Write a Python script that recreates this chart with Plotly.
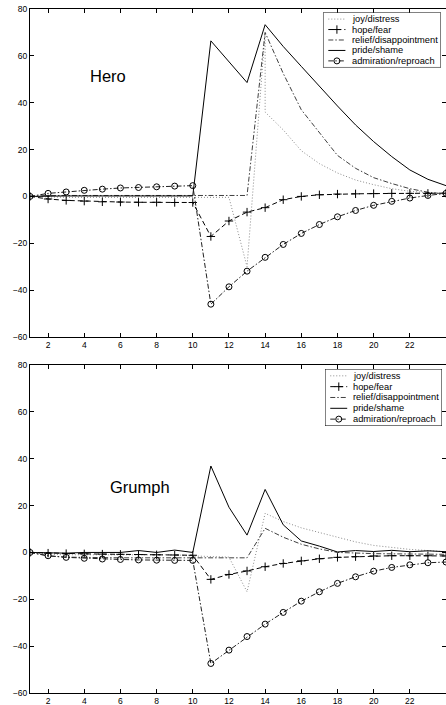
import plotly.graph_objects as go

# ---------------- data ----------------
steps = list(range(1, 25))
x_ticks = list(range(2, 25, 2))
y_ticks = list(range(-60, 81, 20))

series_names = ["joy/distress", "hope/fear", "relief/disappointment",
                "pride/shame", "admiration/reproach"]

# Hero
joy_hero_x = list(range(1, 14)) + [14, 14] + list(range(15, 25))
joy_hero = [0, -0.3, -0.4, -0.4, -0.4, -0.4, -0.4, -0.4, -0.4, -0.4, -0.4, -0.4,
            -30, 70, 36, 28.4, 19.5, 14, 10, 7, 5, 3.3, 2.2, 1.5, 1]
hope_hero = [0, -1.1, -1.7, -2.0, -2.3, -2.4, -2.5, -2.5, -2.6, -2.6,
             -17.1, -10.5, -6.7, -4.8, -1.4, 0, 0.7, 1.0, 1.1, 1.2, 1.3, 1.3, 1.3, 1.4]
relief_hero = [0, 0.4, 0.4, 0.4, 0.4, 0.4, 0.4, 0.4, 0.4, 0.4, 0.4, 0.4, 0.4,
               70, 52.5, 37, 27, 17.5, 12, 8, 5.5, 3.3, 1.8, 1.0]
pride_hero = [0, 0.2, 0.2, 0.2, 0.2, 0.2, 0.2, 0.2, 0.2, 0.2,
              66.4, 57.5, 48.6, 73.3, 64, 55.5, 47, 38.6, 30.5, 23.4, 17, 11.3, 7.3, 4.6]
adm_hero = [0, 1.3, 1.9, 2.6, 3.1, 3.6, 3.8, 4.1, 4.4, 4.6,
            -46, -38.6, -31.9, -26, -20.5, -15.8, -12, -8.7, -6, -3.8, -2.1, -0.7, 0.4, 1.3]

# Grumph
joy_grumph_x = steps
joy_grumph = [0, -0.8, -1, -1, -1, -1, -1, -1, -1, -1.5, -1.9, -2,
              -16.8, 16.7, 13.2, 10.5, 8.5, 6.5, 4.5, 3, 2, 1.3, 0.8, 0.3]
hope_grumph = [0, -0.3, -0.5, -0.6, -0.7, -0.8, -0.9, -1, -1.1, -1.2,
               -11.5, -9.4, -7.9, -6.1, -4.7, -3.6, -2.7, -2.1, -1.8, -1.5, -1.4, -1.4, -1.4, -1.5]
relief_grumph = [0, -1.5, -2, -2.2, -2.3, -2.3, -2.3, -2.3, -2.3, -2.3, -2.3, -2.3, -2.3,
                 10.3, 6.5, 3.5, 1.5, 0, -0.4, -0.5, -0.6, -0.7, -0.8, -0.8]
pride_grumph = [0, -0.2, -0.3, 0, 0, 0, 0.8, 0, 1.0, 0,
                36.9, 19.3, 7.4, 26.9, 11.8, 4.9, 2.7, 0.2, 0.8, 0.4, 0.9, 0.3, 0.7, 0.3]
adm_grumph = [0, -1.4, -2.1, -2.5, -2.8, -3.0, -3.2, -3.3, -3.4, -3.4,
              -47.4, -41.7, -35.9, -30.6, -25.6, -20.8, -16.8, -13.2, -10.4, -8.0, -6.4, -5.3, -4.4, -4.1]

panel_titles = ["Hero", "Grumph"]

# ---------------- styles ----------------
FONT = "Liberation Sans, Arial, sans-serif"
styles = [
    dict(color="#8c8c8c", dash="1px,2px", symbol=None),                 # joy
    dict(color="black", dash="5px,3px", symbol="cross-thin-open"),      # hope
    dict(color="#404040", dash="5px,2px,1.5px,2px", symbol=None),       # relief
    dict(color="black", dash="solid", symbol=None),                     # pride
    dict(color="#202020", dash="5px,2px,1.5px,2px", symbol="circle-open"),  # admiration
]

fig = go.Figure()


def add_series(xs, ys, st, xa, ya):
    mode = "lines+markers" if st["symbol"] else "lines"
    marker = dict(symbol=st["symbol"], size=6, color="black",
                  line=dict(color="black", width=1)) if st["symbol"] else None
    fig.add_trace(go.Scatter(x=xs, y=ys, mode=mode, xaxis=xa, yaxis=ya,
                             line=dict(color=st["color"], dash=st["dash"], width=1),
                             marker=marker, showlegend=False, hoverinfo="skip"))


panels = [
    ("x", "y", [(joy_hero_x, joy_hero), (steps, hope_hero), (steps, relief_hero),
                (steps, pride_hero), (steps, adm_hero)]),
    ("x2", "y2", [(joy_grumph_x, joy_grumph), (steps, hope_grumph), (steps, relief_grumph),
                  (steps, pride_grumph), (steps, adm_grumph)]),
]
for xa, ya, data in panels:
    for (xs, ys), st in zip(data, styles):
        add_series(xs, ys, st, xa, ya)

# ---------------- manual legends ----------------
rows = [0.88, 0.69, 0.50, 0.31, 0.12]
annotations = []
shapes = []
for lx, ly in [("x3", "y3"), ("x4", "y4")]:
    shapes.append(dict(type="rect", xref=lx, yref=ly, x0=0, x1=1, y0=0, y1=1,
                       line=dict(color="black", width=1), fillcolor="white", layer="below"))
    for name, st, r in zip(series_names, styles, rows):
        fig.add_trace(go.Scatter(x=[0.045, 0.19], y=[r, r], mode="lines", xaxis=lx, yaxis=ly,
                                 line=dict(color=st["color"], dash=st["dash"], width=1),
                                 showlegend=False, hoverinfo="skip"))
        if st["symbol"]:
            fig.add_trace(go.Scatter(x=[0.118], y=[r], mode="markers", xaxis=lx, yaxis=ly,
                                     marker=dict(symbol=st["symbol"], size=6, color="black",
                                                 line=dict(color="black", width=1)),
                                     showlegend=False, hoverinfo="skip"))
        annotations.append(dict(x=0.225, y=r, xref=lx, yref=ly, text=name, showarrow=False,
                                xanchor="left", yanchor="middle",
                                font=dict(family=FONT, size=9.3, color="black")))

annotations.append(dict(x=5.29, y=51.5, xref="x", yref="y", text=panel_titles[0],
                        showarrow=False, font=dict(family=FONT, size=16.5, color="black")))
annotations.append(dict(x=7.06, y=28, xref="x2", yref="y2", text=panel_titles[1],
                        showarrow=False, font=dict(family=FONT, size=16.5, color="black")))

axis_common = dict(showline=True, linecolor="black", linewidth=1, mirror="ticks",
                   ticks="inside", ticklen=4, tickwidth=1, tickcolor="black",
                   showgrid=False, zeroline=False,
                   tickfont=dict(family=FONT, size=8.5, color="black"))
hidden = dict(visible=False, range=[0, 1], fixedrange=True)

fig.update_layout(
    width=446, height=705,
    margin=dict(l=30, r=0, t=9, b=12),
    paper_bgcolor="white", plot_bgcolor="rgba(0,0,0,0)",
    showlegend=False,
    xaxis=dict(axis_common, range=[1, 24], tickvals=x_ticks, anchor="y", domain=[0, 1]),
    yaxis=dict(axis_common, range=[-60, 80], tickvals=y_ticks, anchor="x", domain=[0.5205, 1.0]),
    xaxis2=dict(axis_common, range=[1, 24], tickvals=x_ticks, anchor="y2", domain=[0, 1]),
    yaxis2=dict(axis_common, range=[-60, 80], tickvals=y_ticks, anchor="x2", domain=[0, 0.4795]),
    xaxis3=dict(hidden, anchor="y3", domain=[0.7043, 0.988]),
    yaxis3=dict(hidden, anchor="x3", domain=[0.9145, 0.9949]),
    xaxis4=dict(hidden, anchor="y4", domain=[0.7091, 0.9904]),
    yaxis4=dict(hidden, anchor="x4", domain=[0.3904, 0.4737]),
    annotations=annotations,
    shapes=shapes,
)

fig.write_html("out.html", config={"displayModeBar": False},
               post_script="document.body.style.margin='0';document.body.style.overflow='hidden';")
